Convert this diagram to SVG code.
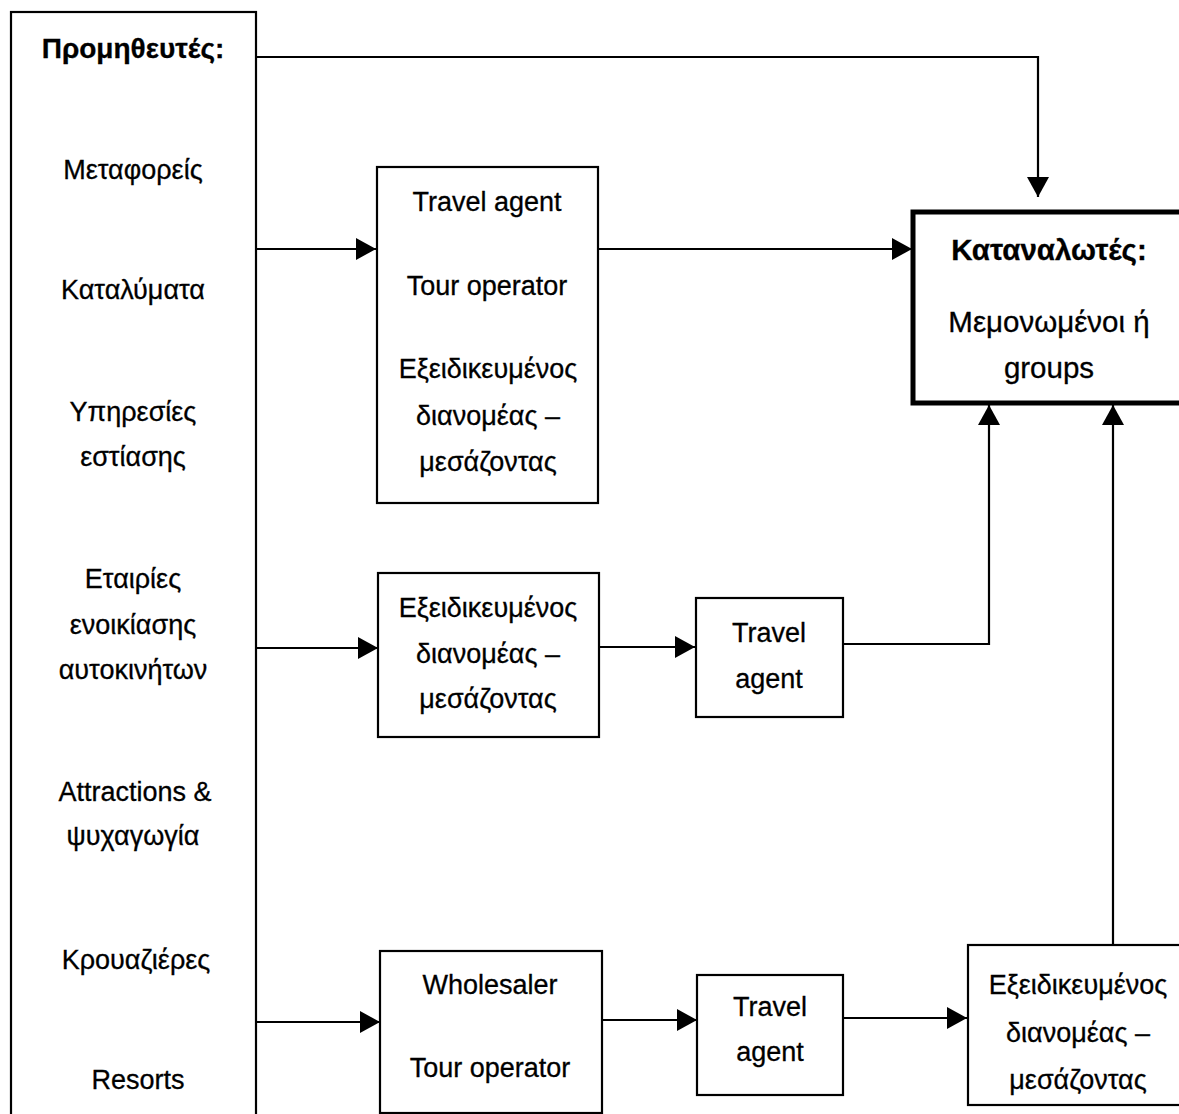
<svg xmlns="http://www.w3.org/2000/svg" width="1179" height="1114" viewBox="0 0 1179 1114">
<style>
.box{fill:#fff;stroke:#000;stroke-width:2.2}
.thick{fill:#fff;stroke:#000;stroke-width:5}
.t{font-family:"Liberation Sans",Arial,sans-serif;font-size:27px;fill:#000;text-anchor:middle;stroke:#000;stroke-width:0.3}
.b{font-weight:bold;font-size:28px}
.k{font-size:29.5px}
.c{fill:none;stroke:#000;stroke-width:2.2}
</style>
<defs>
<marker id="ah" markerUnits="userSpaceOnUse" markerWidth="22" markerHeight="24" refX="20" refY="11" orient="auto" viewBox="0 0 22 24">
<path d="M0,0 L20,11 L0,22 z" fill="#000"/>
</marker>
</defs>
<rect width="1179" height="1114" fill="#fff"/>
<g id="connectors">
<path class="c" d="M256,57 H1038 V197" marker-end="url(#ah)"/>
<path class="c" d="M256,249 H376" marker-end="url(#ah)"/>
<path class="c" d="M598,249 H912" marker-end="url(#ah)"/>
<path class="c" d="M256,648 H378" marker-end="url(#ah)"/>
<path class="c" d="M599,647 H695" marker-end="url(#ah)"/>
<path class="c" d="M843,644 H989 V405" marker-end="url(#ah)"/>
<path class="c" d="M1113,945 V405" marker-end="url(#ah)"/>
<path class="c" d="M256,1022 H380" marker-end="url(#ah)"/>
<path class="c" d="M602,1020 H697" marker-end="url(#ah)"/>
<path class="c" d="M843,1018 H967" marker-end="url(#ah)"/>
</g>
<g id="suppliers">
<rect class="box" x="11" y="12" width="245" height="1120"/>
<text class="t b" x="133" y="58">Προμηθευτές:</text>
<text class="t" x="133" y="179">Μεταφορείς</text>
<text class="t" x="133" y="299">Καταλύματα</text>
<text class="t" x="133" y="421">Υπηρεσίες</text>
<text class="t" x="133" y="466">εστίασης</text>
<text class="t" x="133" y="588">Εταιρίες</text>
<text class="t" x="133" y="634">ενοικίασης</text>
<text class="t" x="133" y="679">αυτοκινήτων</text>
<text class="t" x="135" y="801">Attractions &amp;</text>
<text class="t" x="133" y="845">ψυχαγωγία</text>
<text class="t" x="136" y="969">Κρουαζιέρες</text>
<text class="t" x="138" y="1089">Resorts</text>
</g>
<g id="consumers">
<rect class="thick" x="913" y="212" width="280" height="191"/>
<text class="t b k" x="1049" y="260">Καταναλωτές:</text>
<text class="t k" x="1049" y="332">Μεμονωμένοι ή</text>
<text class="t k" x="1049" y="378">groups</text>
</g>
<g id="box-travel-tour-distributor">
<rect class="box" x="377" y="167" width="221" height="336"/>
<text class="t" x="487" y="211">Travel agent</text>
<text class="t" x="487" y="295">Tour operator</text>
<text class="t" x="488" y="378">Εξειδικευμένος</text>
<text class="t" x="488" y="425">διανομέας –</text>
<text class="t" x="488" y="471">μεσάζοντας</text>
</g>
<g id="box-distributor-2">
<rect class="box" x="378" y="573" width="221" height="164"/>
<text class="t" x="488" y="617">Εξειδικευμένος</text>
<text class="t" x="488" y="663">διανομέας –</text>
<text class="t" x="488" y="708">μεσάζοντας</text>
</g>
<g id="box-travel-agent-2">
<rect class="box" x="696" y="598" width="147" height="119"/>
<text class="t" x="769" y="642">Travel</text>
<text class="t" x="769" y="688">agent</text>
</g>
<g id="box-wholesaler">
<rect class="box" x="380" y="951" width="222" height="162"/>
<text class="t" x="490" y="994">Wholesaler</text>
<text class="t" x="490" y="1077">Tour operator</text>
</g>
<g id="box-travel-agent-3">
<rect class="box" x="697" y="975" width="146" height="120"/>
<text class="t" x="770" y="1016">Travel</text>
<text class="t" x="770" y="1061">agent</text>
</g>
<g id="box-distributor-3">
<rect class="box" x="968" y="945" width="230" height="160"/>
<text class="t" x="1078" y="994">Εξειδικευμένος</text>
<text class="t" x="1078" y="1042">διανομέας –</text>
<text class="t" x="1078" y="1089">μεσάζοντας</text>
</g>
</svg>
